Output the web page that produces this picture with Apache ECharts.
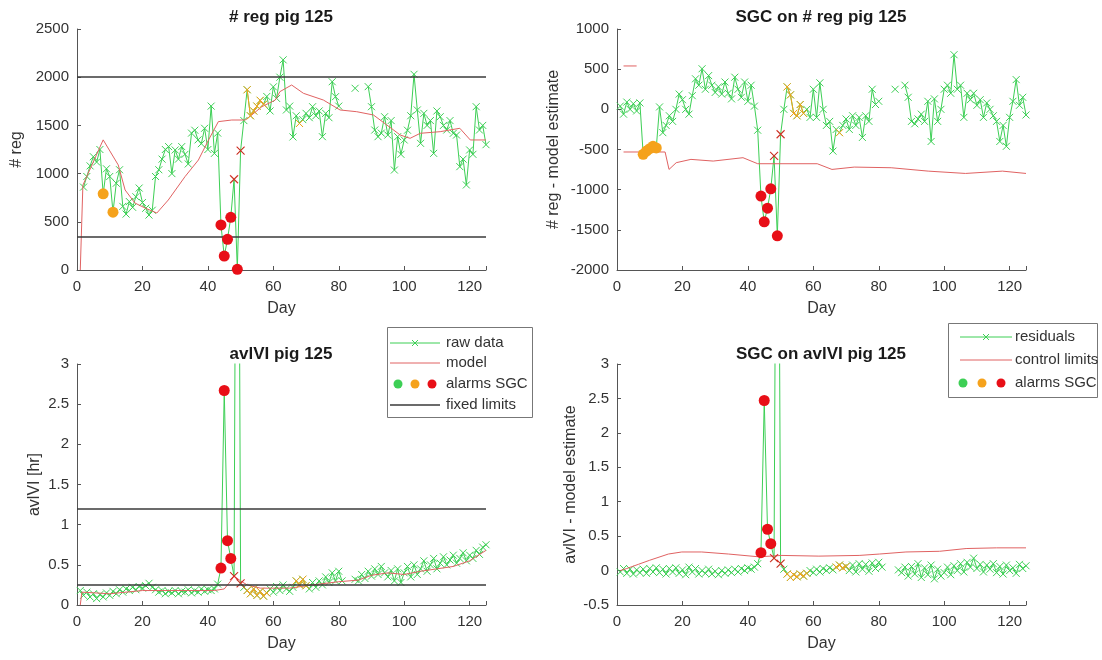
<!DOCTYPE html>
<html>
<head>
<meta charset="utf-8">
<script src="https://cdn.jsdelivr.net/npm/echarts@6/dist/echarts.min.js"></script>
<style>
html, body { margin: 0; background: #fff; }
#chart { width: 1102px; height: 660px; }
</style>
</head>
<body>
<div id="chart"></div>
<script>
// ---- data, one value per day (day 1..125), null = no record ----
var regRaw = [
  null, 860, 970, 1080, 1175, 1120, 1250, 790, 1050, 970,      // 1-10
  600, 900, 1040, 660, 580, 710, 650, 760, 850, 700,           // 11-20
  640, 570, 620, 970, 1040, 1150, 1250, 1280, 1000, 1245,      // 21-30
  1150, 1280, 1200, 1100, 1420, 1450, 1350, 1310, 1470, 1250,  // 31-40
  1700, 1210, 1420, 467, 145, 318, 547, 941, 7, 1239,          // 41-50
  1550, 1870, 1600, 1650, 1700, 1760, 1720, 1800, 1650, 1900,  // 51-60
  1780, 2000, 2180, 1660, 1700, 1380, 1600, 1520, 1560, 1625,  // 61-70
  1580, 1694, 1600, 1650, 1383, 1625, 1580, 1953, 1798, 1700,  // 71-80
  null, null, null, null, 1885, null, null, null, 1902, 1694,  // 81-90
  1452, 1383, 1420, 1590, 1400, 1550, 1037, 1383, 1200, 1349,  // 91-100
  1450, 1600, 2030, 1660, 1314, 1625, 1500, 1550, 1210, 1650,  // 101-110
  1590, 1500, 1452, 1550, 1418, 1400, 1072, 1150, 882, 1245,   // 111-120
  1200, 1694, 1452, 1500, 1300                                 // 121-125
];
// model estimate, [day, value] at the turning points of the curve
var regModel = [[1, 0], [1.8, 880], [8, 1350], [12.6, 1090], [14.7, 830], [17.7, 695], [20.8, 643],
  [24.4, 591], [27.9, 726], [33, 968], [37.1, 1141], [40.2, 1349], [43.2, 1539], [47.3, 1556],
  [51.4, 1556], [53.4, 1608], [56.5, 1694], [60.6, 1763], [62, 1850], [65.6, 1919], [69.2, 1833],
  [75.3, 1763], [80.4, 1660], [85.5, 1642], [90.6, 1608], [94.7, 1504], [98.8, 1400], [101.8, 1366],
  [104.9, 1418], [111, 1435], [117, 1470], [120.2, 1349], [125, 1349]];
var regLimits = [350, 2000];

var sgcReg = [
  40, -60, 90, 0, 70, -20, 80, -560, -520, -490,               // 1-10
  -460, -480, 30, -290, -200, -80, -150, 0, 190, 120,          // 11-20
  0, -60, 170, 380, 300, 505, 250, 420, 300, 210,              // 21-30
  280, 190, 340, 200, 130, 400, 250, 150, 340, 100,            // 31-40
  300, 40, -260, -1080, -1400, -1230, -990, -580, -1575, -310, // 41-50
  0, 280, 180, -50, -80, 60, -50, 0, -100, 250,                // 51-60
  -100, 330, 0, -200, -150, -520, -250, -290, -200, -120,      // 61-70
  -250, -80, -200, -100, -350, -80, -150, 250, 60, 100,        // 71-80
  null, null, null, null, 250, null, null, 300, 150, -150,     // 81-90
  -180, -120, -60, -150, 100, -400, 130, -150, 0, 250,         // 91-100
  300, 200, 680, 250, 300, -100, 200, 120, 200, 50,            // 101-110
  120, -100, 80, 0, -80, -150, -400, -200, -460, -100,         // 111-120
  100, 370, 50, 150, -70                                       // 121-125
];
var sgcRegLower = [[2, -531], [14.7, -531], [15.9, -748], [18.1, -664], [22.6, -623], [29.4, -644],
  [38.5, -602], [43, -677], [61.2, -677], [65.7, -748], [72.5, -719], [83.8, -727], [95.1, -769],
  [106.5, -798], [117.8, -769], [125, -798]];
var sgcRegUpper = [[2, 540], [6, 540]];

var avlRaw = [
  0.18, 0.12, 0.16, 0.10, 0.14, 0.08, 0.13, 0.10, 0.15, 0.12, // 1-10
  0.17, 0.14, 0.19, 0.16, 0.20, 0.18, 0.22, 0.19, 0.23, 0.21, // 11-20
  0.24, 0.27, 0.22, 0.19, 0.16, 0.18, 0.14, 0.17, 0.15, 0.18, // 21-30
  0.14, 0.17, 0.16, 0.19, 0.15, 0.18, 0.16, 0.20, 0.17, 0.19, // 31-40
  0.18, 0.20, 0.26, 0.46, 2.67, 0.80, 0.58, 0.36, 10, 0.27,   // 41-50 (day 49 far above the axis)
  0.22, 0.18, 0.14, 0.20, 0.12, 0.17, 0.11, 0.15, 0.20, 0.16, // 51-60
  0.23, 0.18, 0.25, 0.20, 0.17, 0.22, 0.30, 0.25, 0.32, 0.24, // 61-70
  0.20, 0.28, 0.22, 0.30, 0.25, 0.35, 0.28, 0.40, 0.30, 0.42, // 71-80
  0.30, null, null, null, 0.32, 0.30, 0.38, 0.33, 0.42, 0.36, // 81-90
  0.45, 0.38, 0.48, 0.40, 0.35, 0.43, 0.30, 0.45, 0.28, 0.40, // 91-100
  0.48, 0.35, 0.50, 0.38, 0.45, 0.55, 0.42, 0.50, 0.58, 0.45, // 101-110
  0.52, 0.60, 0.50, 0.56, 0.62, 0.52, 0.58, 0.65, 0.55, 0.62, // 111-120
  0.58, 0.68, 0.63, 0.72, 0.75                                // 121-125
];
var avlModel = [[1, 0], [1.5, 0.16], [10, 0.14], [20, 0.18], [30, 0.18], [42, 0.18], [45, 0.2],
  [47, 0.3], [48, 0.36], [50, 0.3], [52, 0.25], [56, 0.21], [65, 0.21], [72, 0.25], [80, 0.29],
  [86, 0.31], [90, 0.37], [95, 0.4], [100, 0.38], [105, 0.42], [110, 0.45], [115, 0.48],
  [120, 0.55], [125, 0.68]];
var avlLimits = [0.25, 1.2];

var avlResid = [
  -0.02, 0.03, -0.04, 0.02, -0.05, 0.01, -0.03, 0.02, -0.04, 0.03, // 1-10
  -0.02, 0.04, -0.03, 0.02, -0.05, 0.03, -0.02, 0.04, -0.04, 0.01, // 11-20
  -0.06, 0.05, -0.02, 0.03, -0.05, 0.00, -0.04, 0.02, -0.05, -0.01, // 21-30
  -0.06, 0.00, -0.04, 0.01, -0.03, 0.02, -0.02, 0.03, 0.00, 0.04,  // 31-40
  0.02, 0.05, 0.10, 0.26, 2.47, 0.60, 0.39, 0.18, 10, 0.10,        // 41-50
  0.02, -0.05, -0.10, -0.06, -0.09, -0.05, -0.08, -0.04, 0.00, -0.03, // 51-60
  0.02, -0.02, 0.03, 0.00, 0.04, 0.01, 0.05, 0.08, 0.04, 0.06,     // 61-70
  0.00, 0.08, -0.02, 0.10, 0.02, 0.09, -0.01, 0.11, 0.03, 0.12,    // 71-80
  0.05, null, null, null, null, 0.01, -0.03, 0.05, -0.08, 0.06,    // 81-90
  -0.05, 0.10, -0.10, 0.04, -0.06, 0.08, -0.12, 0.02, -0.08, -0.03, // 91-100
  0.05, -0.06, 0.07, 0.00, 0.10, -0.02, 0.12, 0.05, 0.18, 0.03,    // 101-110
  0.09, -0.02, 0.08, 0.02, 0.10, -0.03, 0.06, -0.05, 0.08, 0.00,   // 111-120
  0.04, -0.04, 0.09, 0.03, 0.07                                    // 121-125
];
var avlCtrl = [[1, 0], [3, 0.03], [6.5, 0.09], [10, 0.15], [15.7, 0.24], [19.8, 0.27], [25.9, 0.27],
  [34.1, 0.24], [43.3, 0.2], [50.4, 0.22], [61.7, 0.21], [74, 0.22], [80.2, 0.24], [88.3, 0.27],
  [98.6, 0.28], [106.7, 0.32], [116, 0.33], [125, 0.33]];

// alarm days
var regRedDots = [44, 45, 46, 47, 49];
var regOrangeDots = [8, 11];
var regRedX = [48, 50];
var regOrangeX = [52, 53, 54, 55, 56, 57, 68];
var sgcOrangeDots = [8, 9, 10, 11, 12];
var sgcOrangeX = [8, 9, 10, 11, 12, 52, 53, 54, 55, 56, 57, 68];
var avlRedDots = [44, 45, 46, 47];
var avlRedX = [48, 50];
var avlOrangeX = [52, 53, 54, 55, 56, 57, 58, 67, 68, 69, 70];

var green = '#3dcf55', orange = '#f5a21c', red = '#e80f17', modelRed = '#e06262', black = '#3a3a3a';
var font = 'Liberation Sans, Arial, sans-serif';
var xMark = 'path://M0,0L10,10M10,0L0,10';

function pts(arr) {
  return arr.map(function (v, i) { return [i + 1, v == null ? '-' : v]; });
}
function only(arr, days) {
  return arr.map(function (v, i) { return [i + 1, days.indexOf(i + 1) >= 0 && v != null ? v : '-']; });
}
function pick(arr, days) {
  return days.map(function (d) { return [d, arr[d - 1]]; });
}

function xAx(g) {
  return {
    type: 'value', gridIndex: g, min: 0, max: 125, interval: 20,
    name: 'Day', nameLocation: 'middle', nameGap: 31,
    nameTextStyle: { fontSize: 16, color: '#333', fontFamily: font },
    axisLine: { onZero: false, lineStyle: { color: '#555' } },
    axisTick: { inside: true, length: 4, lineStyle: { color: '#555' } },
    axisLabel: { color: '#333', fontSize: 15, fontFamily: font, margin: 9,
      formatter: function (v) { return v % 20 === 0 ? String(v) : ''; } },
    splitLine: { show: false }
  };
}
function yAx(g, min, max, name, gap) {
  return {
    type: 'value', gridIndex: g, min: min, max: max, interval: max > 10 ? 500 : 0.5,
    name: name, nameLocation: 'middle', nameGap: gap,
    nameTextStyle: { fontSize: 16, color: '#333', fontFamily: font },
    axisLine: { show: true, onZero: false, lineStyle: { color: '#555' } },
    axisTick: { show: true, inside: true, length: 4, lineStyle: { color: '#555' } },
    axisLabel: { color: '#333', fontSize: 15, fontFamily: font, margin: 8,
      formatter: function (v) { return String(v); } },
    splitLine: { show: false }
  };
}

function rawLine(g, data, color, z) {
  return { type: 'line', xAxisIndex: g, yAxisIndex: g, data: data, symbol: xMark, symbolSize: 7,
    lineStyle: { color: color, width: 1 }, connectNulls: false, z: z,
    itemStyle: { color: 'transparent', borderColor: color, borderWidth: 1 } };
}
function xMarks(g, data, color) {
  return { type: 'scatter', xAxisIndex: g, yAxisIndex: g, data: data, symbol: xMark, symbolSize: 8, z: 4,
    itemStyle: { color: 'transparent', borderColor: color, borderWidth: 1.2 } };
}
function dots(g, data, color) {
  return { type: 'scatter', xAxisIndex: g, yAxisIndex: g, data: data, symbol: 'circle', symbolSize: 11, z: 6,
    itemStyle: { color: color, opacity: 1 } };
}
function thinLine(g, data, color, limits) {
  var s = { type: 'line', xAxisIndex: g, yAxisIndex: g, data: data, symbol: 'none', z: 3,
    lineStyle: { color: color, width: 1 } };
  if (limits) {
    s.markLine = { silent: true, symbol: 'none', label: { show: false },
      lineStyle: { color: black, type: 'solid', width: 1.5 },
      data: limits.map(function (v) { return { yAxis: v }; }) };
  }
  return s;
}

// legends and titles
function txt(x, y, s, bold, align) {
  return { type: 'text', x: x, y: y, z: 20,
    style: { text: s, fill: bold ? '#1a1a1a' : '#333', font: (bold ? 'bold 17px ' : '15px ') + font,
      textAlign: align || 'left', textVerticalAlign: 'middle' } };
}
function seg(x1, x2, y, color, w) {
  return { type: 'line', z: 20, shape: { x1: x1, y1: y, x2: x2, y2: y }, style: { stroke: color, lineWidth: w || 1 } };
}
function cross(cx, cy, color) {
  return [
    { type: 'line', z: 21, shape: { x1: cx - 3, y1: cy - 3, x2: cx + 3, y2: cy + 3 }, style: { stroke: color } },
    { type: 'line', z: 21, shape: { x1: cx + 3, y1: cy - 3, x2: cx - 3, y2: cy + 3 }, style: { stroke: color } }
  ];
}
function dotsIcon(xs, y) {
  var c = [green, orange, red];
  return xs.map(function (x, i) {
    return { type: 'circle', z: 21, shape: { cx: x, cy: y, r: 4.5 }, style: { fill: c[i] } };
  });
}

var graphics = [
  txt(281, 17, '# reg pig 125', true, 'center'),
  txt(821, 17, 'SGC on # reg pig 125', true, 'center'),
  txt(281, 354, 'avlVI pig 125', true, 'center'),
  txt(821, 354, 'SGC on avlVI pig 125', true, 'center'),
  { type: 'rect', z: 19, shape: { x: 387.5, y: 327.5, width: 145, height: 90 },
    style: { fill: '#fff', stroke: '#777', lineWidth: 1 } },
  seg(390, 440, 343, green), txt(446, 343, 'raw data'),
  seg(390, 440, 363, modelRed), txt(446, 363, 'model'),
  txt(446, 384, 'alarms SGC'),
  seg(390, 440, 405, black, 1.5), txt(446, 405, 'fixed limits'),
  { type: 'rect', z: 19, shape: { x: 948.5, y: 323.5, width: 149, height: 74 },
    style: { fill: '#fff', stroke: '#777', lineWidth: 1 } },
  seg(960, 1012, 337, green), txt(1015, 337, 'residuals'),
  seg(960, 1012, 360, modelRed), txt(1015, 360, 'control limits'),
  txt(1015, 383, 'alarms SGC')
].concat(cross(415, 343, green), dotsIcon([398, 415, 432], 384),
  cross(986, 337, green), dotsIcon([963, 982, 1001], 383));

var myChart = echarts.init(document.getElementById('chart'));
var option = {
  animation: false,
  backgroundColor: '#fff',
  textStyle: { fontFamily: font },
  grid: [
    { left: 77, top: 29, width: 409, height: 241 },
    { left: 617, top: 29, width: 409, height: 241 },
    { left: 77, top: 364, width: 409, height: 241 },
    { left: 617, top: 364, width: 409, height: 241 }
  ],
  xAxis: [xAx(0), xAx(1), xAx(2), xAx(3)],
  yAxis: [
    yAx(0, 0, 2500, '# reg', 52),
    yAx(1, -2000, 1000, '# reg - model estimate', 55),
    yAx(2, 0, 3, 'avlVI [hr]', 34),
    yAx(3, -0.5, 3, 'avlVI - model estimate', 38)
  ],
  series: [
    // # reg
    rawLine(0, pts(regRaw), green, 2),
    rawLine(0, only(regRaw, regOrangeX), orange, 3),
    thinLine(0, regModel, modelRed, regLimits),
    xMarks(0, pick(regRaw, regRedX), red),
    dots(0, pick(regRaw, regOrangeDots), orange),
    dots(0, pick(regRaw, regRedDots), red),
    // SGC on # reg
    rawLine(1, pts(sgcReg), green, 2),
    rawLine(1, only(sgcReg, sgcOrangeX), orange, 3),
    thinLine(1, sgcRegLower, modelRed),
    thinLine(1, sgcRegUpper, modelRed),
    xMarks(1, pick(sgcReg, regRedX), red),
    dots(1, pick(sgcReg, sgcOrangeDots), orange),
    dots(1, pick(sgcReg, regRedDots), red),
    // avlVI
    rawLine(2, pts(avlRaw), green, 2),
    rawLine(2, only(avlRaw, avlOrangeX), orange, 3),
    thinLine(2, avlModel, modelRed, avlLimits),
    xMarks(2, pick(avlRaw, avlRedX), red),
    dots(2, pick(avlRaw, avlRedDots), red),
    // SGC on avlVI
    rawLine(3, pts(avlResid), green, 2),
    rawLine(3, only(avlResid, avlOrangeX), orange, 3),
    thinLine(3, avlCtrl, modelRed),
    xMarks(3, pick(avlResid, avlRedX), red),
    dots(3, pick(avlResid, avlRedDots), red)
  ],
  graphic: graphics
};
myChart.setOption(option);
</script>
</body>
</html>
